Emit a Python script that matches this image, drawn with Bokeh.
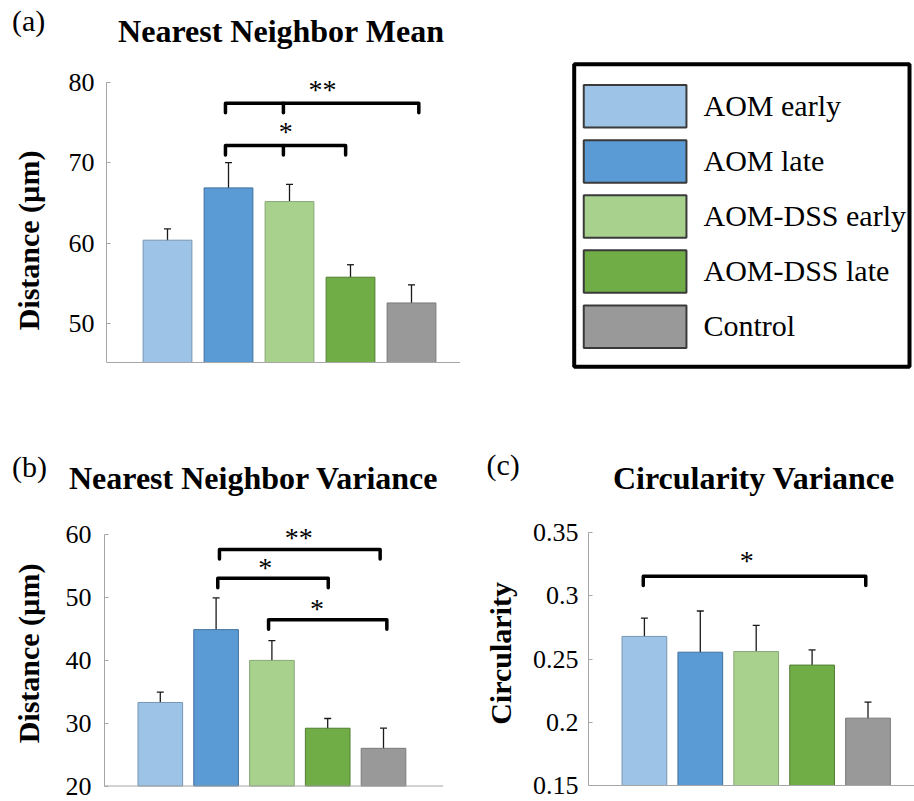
from bokeh.plotting import figure
from bokeh.models import Range1d, FixedTicker, ColumnDataSource, Whisker, TeeHead, Span
from bokeh.layouts import row, column
from bokeh.embed import file_html
from bokeh.resources import INLINE
from bokeh.core.properties import value

# ---------------- data ----------------
groups = ["AOM early", "AOM late", "AOM-DSS early", "AOM-DSS late", "Control"]
positions = [1, 2, 3, 4, 5]

nn_mean = [60.4, 66.9, 65.2, 55.8, 52.6]
nn_mean_err = [1.4, 3.15, 2.15, 1.55, 2.25]

nn_var = [33.3, 44.9, 40.0, 29.2, 26.0]
nn_var_err = [1.65, 5.05, 3.15, 1.55, 3.2]

circ_var = [0.268, 0.2555, 0.256, 0.2453, 0.2033]
circ_var_err = [0.0145, 0.0326, 0.0207, 0.012, 0.0127]

a_ticks = [50, 60, 70, 80]
a_tick_labels = ["50", "60", "70", "80"]
b_ticks = [20, 30, 40, 50, 60]
b_tick_labels = ["20", "30", "40", "50", "60"]
c_ticks = [0.15, 0.2, 0.25, 0.3, 0.35]
c_tick_labels = ["0.15", "0.2", "0.25", "0.3", "0.35"]

panel_titles = ["Nearest Neighbor Mean", "Nearest Neighbor Variance", "Circularity Variance"]
panel_letters = ["(a)", "(b)", "(c)"]

# significance brackets: start, end, height; stars text, x, y
a_br_start = [1.95, 1.95]
a_br_end = [5.12, 3.92]
a_br_y = [77.43, 72.17]
a_br_mid = [2.90, 2.90]
a_star_text = ["**", "*"]
a_star_x = [3.54, 2.94]
a_star_y = [79.1, 73.95]

b_br_start = [2.06, 2.03, 2.94]
b_br_end = [4.94, 4.01, 5.06]
b_br_y = [57.64, 53.07, 46.48]
b_star_text = ["**", "*", "*"]
b_star_x = [3.48, 2.88, 3.81]
b_star_y = [59.6, 54.8, 48.2]

c_br_start = [0.98]
c_br_end = [4.96]
c_br_y = [0.3157]
c_star_text = ["*"]
c_star_x = [2.83]
c_star_y = [0.328]

# ---------------- style ----------------
colors = ["#9dc3e6", "#5b9bd5", "#a9d18e", "#70ad47", "#999999"]
edge_colors = ["#7896b3", "#41719c", "#86a873", "#507e32", "#7a7a7a"]
SERIF = "Liberation Serif"
AXIS_GRAY = "#a6a6a6"


def blank(width, height):
    f = figure(width=width, height=height, x_range=Range1d(0, width),
               y_range=Range1d(height, 0), x_axis_type=None, y_axis_type=None,
               output_backend="svg", toolbar_location=None, min_border=0)
    f.outline_line_color = None
    return f


def header(width, height, titles, title_x, title_mid, letters, letter_x, letter_mid):
    h = blank(width, height)
    h.text(x=title_x, y=title_mid, text=titles, text_font=value(SERIF),
           text_font_size="32px", text_font_style="bold", text_align="center",
           text_baseline="middle", text_color="black")
    h.text(x=letter_x, y=letter_mid, text=letters, text_font=value(SERIF),
           text_font_size="30px", text_align="left",
           text_baseline="middle", text_color="black")
    return h


def bar_panel(vals, errs, y0, y0_px, y_top_tick, top_tick_px, ticks, tick_labels, ylabel,
              width, height, left, right, x_end, tick_standoff, label_standoff):
    # y0_px / top_tick_px: pixel rows (from the figure top) of the baseline and top tick
    ppu = (y0_px - top_tick_px) / (y_top_tick - y0)
    y_end = y_top_tick + top_tick_px / ppu
    y_start = y0 - (height - y0_px) / ppu
    p = figure(width=width, height=height, x_range=Range1d(0, x_end),
               y_range=Range1d(y_start, y_end), x_axis_type=None,
               output_backend="svg", toolbar_location=None,
               min_border_left=left, min_border_right=right,
               min_border_top=0, min_border_bottom=0)
    p.grid.visible = False
    p.outline_line_color = None
    src = ColumnDataSource(dict(
        x=positions, top=vals, color=colors, edge=edge_colors,
        upper=[v + e for v, e in zip(vals, errs)],
        lower=[v - e for v, e in zip(vals, errs)]))
    p.vbar(x="x", top="top", bottom=y0, width=0.8, source=src,
           fill_color="color", line_color="edge", line_width=1)
    w = Whisker(source=src, base="x", upper="upper", lower="lower",
                line_color="#1a1a1a", line_width=1.3,
                upper_head=TeeHead(size=7, line_color="#1a1a1a", line_width=1.3),
                lower_head=TeeHead(size=7, line_color="#1a1a1a", line_width=1.3))
    p.add_layout(w)
    # category baseline
    p.add_layout(Span(location=y0, dimension="width", line_color=AXIS_GRAY, line_width=1))
    # y axis
    p.yaxis.bounds = (y0, y_top_tick)
    p.yaxis.ticker = FixedTicker(ticks=ticks)
    p.yaxis.major_label_overrides = {t: l for t, l in zip(ticks, tick_labels)}
    p.yaxis.minor_tick_line_color = None
    p.yaxis.major_tick_in = 4
    p.yaxis.major_tick_out = 0
    p.yaxis.major_tick_line_color = AXIS_GRAY
    p.yaxis.axis_line_color = AXIS_GRAY
    p.yaxis.major_label_text_font = SERIF
    p.yaxis.major_label_text_font_size = "26px"
    p.yaxis.major_label_text_color = "#000000"
    p.yaxis.major_label_standoff = tick_standoff
    p.yaxis.axis_label = ylabel
    p.yaxis.axis_label_text_font = SERIF
    p.yaxis.axis_label_text_font_size = "30px"
    p.yaxis.axis_label_text_font_style = "bold"
    p.yaxis.axis_label_text_color = "#000000"
    p.yaxis.axis_label_standoff = label_standoff
    return p, ppu


def add_brackets(p, ppu, starts, ends, ys, st_text, st_x, st_y, drop_px, mids=None):
    drop = drop_px / ppu
    xs = [[s, s, e, e] for s, e in zip(starts, ends)]
    yss = [[y - drop, y, y, y - drop] for y in ys]
    if mids is not None:
        xs += [[m, m] for m in mids]
        yss += [[y, y - drop] for y in ys]
    p.multi_line(xs=xs, ys=yss, line_color="black", line_width=3.5,
                 line_join="round", line_cap="round")
    p.text(x=st_x, y=st_y, text=st_text, text_font=value(SERIF), text_font_size="28px",
           text_align="center", text_baseline="middle", text_color="black")


# ---------------- header row 1 (page rows 0-60) ----------------
h1 = header(914, 60, panel_titles[:1], [280.8], [30], panel_letters[:1], [11.5], [20])

# ---------------- panel (a) (page rows 60-420) ----------------
pa, ppu_a = bar_panel(nn_mean, nn_mean_err, 45.2, 302, 80, 22, a_ticks, a_tick_labels,
                      "Distance (µm)", 460, 360, 106, 0, 354 / 61, 12, 21)
add_brackets(pa, ppu_a, a_br_start, a_br_end, a_br_y, a_star_text, a_star_x, a_star_y,
             9.5, mids=a_br_mid)

# ---------------- legend ----------------
leg = blank(454, 360)
leg.quad(left=[113.7], right=[449], top=[3.7], bottom=[306.3], fill_color=None,
         line_color="black", line_width=4)
item_y = [45.8 + i * 55.1 for i in range(len(groups))]
leg.rect(x=[174.6] * len(groups), y=item_y, width=102.7, height=42.5,
         fill_color=colors, line_color="#3a3a3a", line_width=2)
leg.text(x=[243] * len(groups), y=[v - 1 for v in item_y], text=groups,
         text_font=value(SERIF), text_font_size="30px", text_baseline="middle",
         text_align="left", text_color="black")

# ---------------- header row 2 (page rows 420-505) ----------------
h2 = header(914, 85, panel_titles[1:], [253.3, 753.3], [57, 57.5],
            panel_letters[1:], [11.5, 486], [46.2, 44.4])

# ---------------- panel (b) (page rows 505-801) ----------------
pb, ppu_b = bar_panel(nn_var, nn_var_err, 20, 280.5, 60, 29.3, b_ticks, b_tick_labels,
                      "Distance (µm)", 460, 296, 104, 17, 339 / 55.8, 13, 18)
add_brackets(pb, ppu_b, b_br_start, b_br_end, b_br_y, b_star_text, b_star_x, b_star_y, 9.5)

# ---------------- panel (c) ----------------
pc, ppu_c = bar_panel(circ_var, circ_var_err, 0.15, 280, 0.35, 27.3, c_ticks, c_tick_labels,
                      "Circularity", 454, 296, 128, 0, 326 / 55.9, 10, 13)
add_brackets(pc, ppu_c, c_br_start, c_br_end, c_br_y, c_star_text, c_star_x, c_star_y, 9.3)

layout = column(h1, row(pa, leg), h2, row(pb, pc))

open("out.html", "w").write(file_html(layout, INLINE))
